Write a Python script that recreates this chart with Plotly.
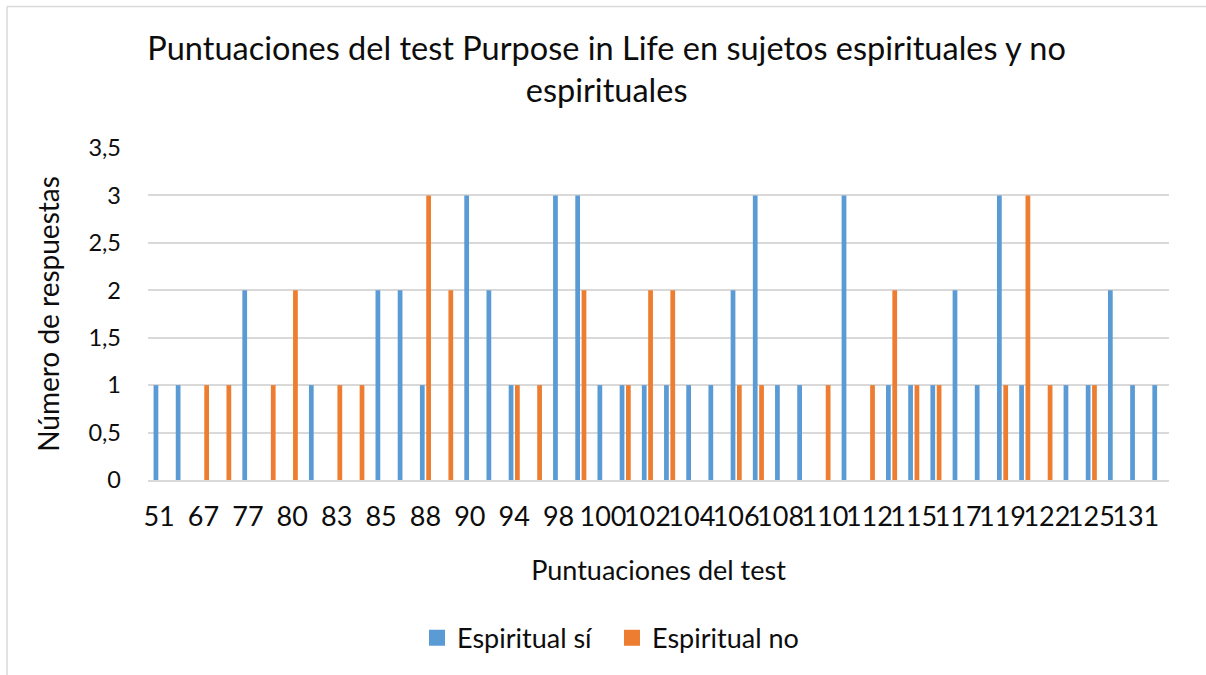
import plotly.graph_objects as go

# Categories (test scores); odd-position labels are hidden in the original chart (estimated)
puntuaciones = ["51", "60", "67", "72", "77", "79", "80", "82", "83", "84",
                "85", "86", "88", "89", "90", "92", "94", "96", "98", "99",
                "100", "101", "102", "103", "104", "105", "106", "107", "108", "109",
                "110", "111", "112", "114", "115", "116", "117", "118", "119", "121",
                "122", "124", "125", "128", "131", "134"]

espiritual_si = [1, 1, 0, 0, 2, 0, 0, 1, 0, 0,
                 2, 2, 1, 0, 3, 2, 1, 0, 3, 3,
                 1, 1, 1, 1, 1, 1, 2, 3, 1, 1,
                 0, 3, 0, 1, 1, 1, 2, 1, 3, 1,
                 0, 1, 1, 2, 1, 1]

espiritual_no = [0, 0, 1, 1, 0, 1, 2, 0, 1, 1,
                 0, 0, 3, 2, 0, 0, 1, 1, 0, 2,
                 0, 1, 2, 2, 0, 0, 1, 1, 0, 0,
                 1, 0, 1, 2, 1, 1, 0, 0, 1, 3,
                 1, 0, 1, 0, 0, 0]

series_names = ["Espiritual sí", "Espiritual no"]
series_colors = ["#5B9BD5", "#ED7D31"]

tick_labels = puntuaciones[::2]

FONT = "Lato"
TXT = "#0d0d0d"
GRID = "#d9d9d9"

fig = go.Figure()
for name, vals, col in zip(series_names, [espiritual_si, espiritual_no], series_colors):
    fig.add_trace(go.Bar(x=puntuaciones, y=vals, name=name, legendgroup=name,
                         showlegend=False,
                         marker=dict(color=col, line=dict(width=0))))
# legend entries with larger square swatches
for name, col in zip(series_names, series_colors):
    fig.add_trace(go.Scatter(x=[None], y=[None], mode="markers", name=name,
                             legendgroup=name, hoverinfo="skip",
                             marker=dict(symbol="square", size=17, color=col)))

L, R, T, B = 148, 1169, 148.3, 480
pw, ph = R - L, B - T

def px_x(p):
    return (p - L) / pw

def px_y(p):
    return (B - p) / ph

fig.update_layout(
    width=1206, height=675,
    margin=dict(l=L, r=1206 - R, t=T, b=675 - B, pad=0),
    paper_bgcolor="white", plot_bgcolor="white",
    separators=",.",
    barmode="group", bargap=0.43, bargroupgap=0.25,
    font=dict(family=FONT, color=TXT),
    title=dict(
        text="Puntuaciones del test Purpose in Life en sujetos espirituales y no<br>espirituales",
        font=dict(family=FONT, size=32.5, color=TXT),
        x=0.503, xref="container", xanchor="center",
        y=1 - 60 / 675, yref="container", yanchor="top",
    ),
    xaxis=dict(
        type="category",
        tickmode="array", tickvals=tick_labels, ticktext=tick_labels,
        tickangle=0,
        tickfont=dict(family=FONT, size=27, color=TXT),
        showgrid=False,
        showline=True, linecolor=GRID, linewidth=1.5,
        ticks="", ticklabelstandoff=12,
        title=dict(text="Puntuaciones del test", font=dict(family=FONT, size=27, color=TXT),
                   standoff=30),
    ),
    yaxis=dict(
        range=[0, 3.5], dtick=0.5, tick0=0,
        tickfont=dict(family=FONT, size=23.5, color=TXT),
        showgrid=True, gridcolor=GRID, gridwidth=1.5,
        zeroline=False,
        ticks="", ticklabelstandoff=26,
        title=dict(text="Número de respuestas", font=dict(family=FONT, size=28, color=TXT),
                   standoff=20),
    ),
    legend=dict(
        orientation="h",
        x=px_x(612), xanchor="center",
        y=px_y(638), yanchor="middle",
        font=dict(family=FONT, size=27, color=TXT),
        traceorder="normal",
        itemsizing="trace",
        entrywidth=150, entrywidthmode="pixels",
    ),
    shapes=[
        dict(type="line", xref="paper", yref="paper",
             x0=px_x(7), x1=px_x(1230), y0=px_y(7), y1=px_y(7),
             line=dict(color=GRID, width=1.5)),
        dict(type="line", xref="paper", yref="paper",
             x0=px_x(7), x1=px_x(7), y0=px_y(7), y1=px_y(700),
             line=dict(color=GRID, width=1.5)),
    ],
)

fig.write_html("out.html", config={"displayModeBar": False},
               post_script="document.body.style.margin='0';")
